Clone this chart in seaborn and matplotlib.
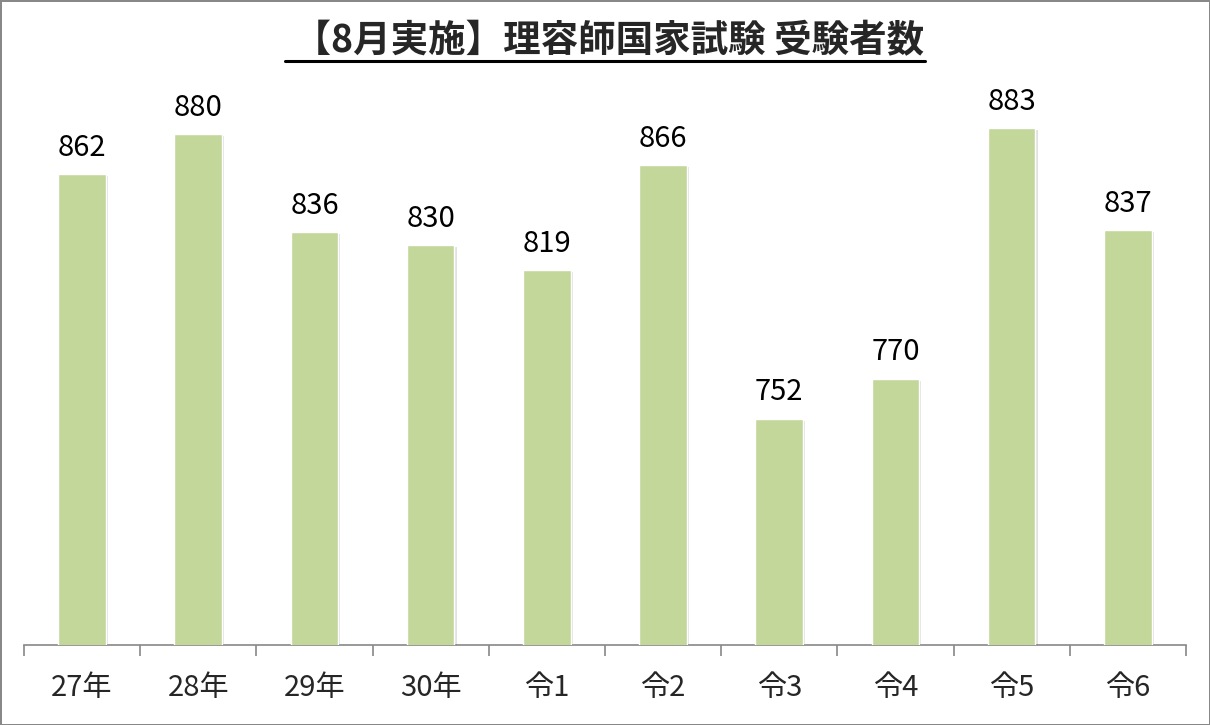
import matplotlib
matplotlib.use("Agg")
import matplotlib.pyplot as plt
from matplotlib.lines import Line2D
import matplotlib.patheffects as pe
import seaborn as sns
import pandas as pd

# data
years = ['27年', '28年', '29年', '30年', '令1', '令2', '令3', '令4', '令5', '令6']
examinees = [862, 880, 836, 830, 819, 866, 752, 770, 883, 837]
title = ' 【8月実施】理容師国家試験 受験者数'

df = pd.DataFrame({'year': years, 'count': examinees})

sns.set_theme(style='white')
plt.rcParams['font.family'] = ['Noto Sans CJK JP', 'DejaVu Sans']

fig = plt.figure(figsize=(12.1, 7.25), dpi=100)
fig.patch.set_edgecolor('#888888')
fig.patch.set_linewidth(2)
ax = fig.add_axes([0.0198, 0.1103, 0.9603, 0.7657])

sns.barplot(data=df, x='year', y='count', color='#C4D79B', width=0.41,
            saturation=1, ax=ax, zorder=3)
for bar in ax.patches:
    bar.set_path_effects([pe.SimplePatchShadow(offset=(1.5, -1.5), alpha=0.15), pe.Normal()])

ax.set_ylim(650, 900)
ax.set_xlim(-0.5, len(years) - 0.5)

for i, v in enumerate(examinees):
    ax.annotate(str(v), (i, v), xytext=(0, 8), textcoords='offset points',
                ha='center', va='bottom', fontsize=21, color='black')

for s in ['top', 'right', 'left']:
    ax.spines[s].set_visible(False)
ax.spines['bottom'].set_color('#888888')
ax.spines['bottom'].set_linewidth(1.2)
ax.set_yticks([])
ax.set_xticks(range(len(years)))
ax.set_xticklabels(years, fontsize=21)
ax.set_xticks([i - 0.5 for i in range(len(years) + 1)], minor=True)
ax.tick_params(axis='x', which='major', length=0, pad=20)
ax.tick_params(axis='x', which='minor', length=8, width=1.2, color='#888888', bottom=True)
ax.set_xlabel('')
ax.set_ylabel('')

t = fig.text(0.5, 1 - 41 / 725, title, ha='center', va='center',
             fontsize=27, fontweight='bold')
fig.canvas.draw()
bb = t.get_window_extent()
uy = 1 - 61 / 725
fig.add_artist(Line2D([bb.x0 / fig.bbox.width, bb.x1 / fig.bbox.width], [uy, uy],
                      transform=fig.transFigure, color='black', lw=2.2))

fig.savefig('out.png', dpi=100, edgecolor=fig.get_edgecolor())
